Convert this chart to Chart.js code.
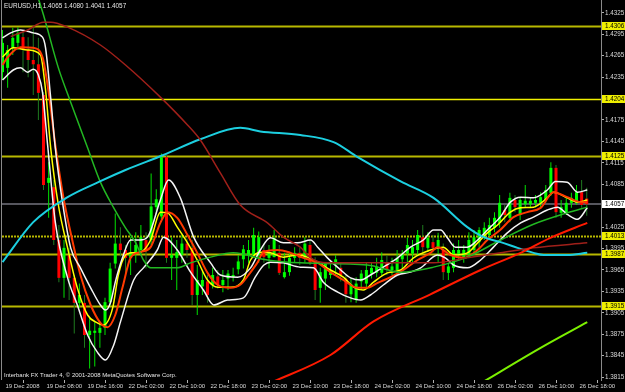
<!DOCTYPE html>
<html>
<head>
<meta charset="utf-8">
<script src="https://cdn.jsdelivr.net/npm/chart.js@4.4.1/dist/chart.umd.min.js"></script>
<style>
  html, body { margin: 0; padding: 0; background: #000; }
  #wrap { width: 625px; height: 392px; }
</style>
</head>
<body>
<div id="wrap"><canvas id="chart" width="625" height="392"></canvas></div>
<script>
// hourly candles, 19 Dec 2008 00:00 -> 26 Dec 2008 18:00
const opens = [1.4242,1.4248,1.4277,1.4283,1.4291,1.4273,1.4259,1.4253,1.4210,1.4087,1.4081,1.4007,1.3954,1.3986,1.3954,1.3919,1.3919,1.3874,1.3877,1.3877,
  1.3884,1.3920,1.3974,1.4002,1.3993,1.3982,1.3990,1.3993,1.4007,1.4007,1.4053,1.4040,1.4123,1.3982,1.3982,1.3986,1.4002,1.3996,1.3930,1.3942,
  1.3949,1.3944,1.3956,1.3944,1.3953,1.3955,1.3966,1.3980,1.3986,1.3986,1.3986,1.3993,1.3982,1.3983,1.3989,1.3955,1.3962,1.3982,1.3989,1.3982,
  1.4000,1.3979,1.3940,1.3953,1.3958,1.3974,1.3968,1.3953,1.3931,1.3923,1.3949,1.3946,1.3960,1.3961,1.3961,1.3975,1.3965,1.3965,1.3980,1.3988,
  1.3988,1.3993,1.4011,1.3996,1.4004,1.3997,1.3993,1.3961,1.3968,1.3986,1.3982,1.3986,1.3993,1.4004,1.4011,1.4014,1.4024,1.4031,1.4049,1.4038,
  1.4063,1.4042,1.4057,1.4057,1.4059,1.4059,1.4063,1.4073,1.4108,1.4045,1.4046,1.4059,1.4059,1.4074,1.4065];
const highs = [1.4301,1.4280,1.4304,1.4305,1.4301,1.4291,1.4304,1.4290,1.4214,1.4116,1.4091,1.4028,1.4007,1.3996,1.3958,1.3946,1.3930,1.3898,1.3892,1.3892,
  1.3926,1.3975,1.4044,1.4025,1.4000,1.4011,1.4018,1.4028,1.4018,1.4100,1.4078,1.4128,1.4126,1.4011,1.4007,1.4014,1.4009,1.4007,1.3972,1.3965,
  1.3958,1.3968,1.3965,1.3965,1.3965,1.3968,1.3986,1.4000,1.4007,1.4024,1.4019,1.4002,1.4000,1.4021,1.4000,1.3989,1.3990,1.3997,1.3996,1.4011,
  1.4007,1.3983,1.3968,1.3975,1.3975,1.3986,1.3975,1.3958,1.3953,1.3955,1.3965,1.3975,1.3975,1.3982,1.3990,1.3986,1.3982,1.3993,1.3993,1.4010,
  1.4007,1.4021,1.4028,1.4018,1.4014,1.4017,1.4002,1.3975,1.4002,1.4007,1.4000,1.4018,1.4021,1.4025,1.4032,1.4038,1.4046,1.4070,1.4056,1.4073,
  1.4070,1.4066,1.4084,1.4066,1.4070,1.4074,1.4084,1.4116,1.4112,1.4063,1.4067,1.4073,1.4084,1.4091,1.4080];
const lows = [1.4231,1.4220,1.4266,1.4273,1.4242,1.4235,1.4210,1.4175,1.4077,1.4038,1.4000,1.3948,1.3926,1.3923,1.3876,1.3912,1.3856,1.3827,1.3830,1.3856,
  1.3874,1.3915,1.3967,1.3984,1.3954,1.3958,1.3975,1.3986,1.3967,1.4000,1.4043,1.4036,1.3975,1.3951,1.3937,1.3975,1.3982,1.3916,1.3902,1.3930,
  1.3919,1.3939,1.3939,1.3934,1.3937,1.3949,1.3959,1.3967,1.3975,1.3982,1.3975,1.3975,1.3967,1.3983,1.3958,1.3953,1.3957,1.3975,1.3972,1.3975,
  1.3972,1.3923,1.3919,1.3937,1.3953,1.3958,1.3949,1.3919,1.3920,1.3919,1.3937,1.3939,1.3953,1.3955,1.3957,1.3958,1.3958,1.3960,1.3967,1.3975,
  1.3975,1.3986,1.3989,1.3990,1.3990,1.3975,1.3951,1.3951,1.3962,1.3979,1.3975,1.3982,1.3986,1.3996,1.4007,1.4007,1.4018,1.4024,1.4032,1.4032,
  1.4046,1.4035,1.4052,1.4052,1.4053,1.4053,1.4059,1.4069,1.4038,1.4038,1.4042,1.4052,1.4056,1.4052,1.4041];
const closes = [1.4283,1.4273,1.4290,1.4297,1.4273,1.4259,1.4253,1.4213,1.4084,1.4094,1.4007,1.3954,1.3996,1.3954,1.3919,1.3930,1.3874,1.3880,1.3880,1.3884,
  1.3920,1.3967,1.4002,1.3993,1.3982,1.3990,1.4000,1.4011,1.3993,1.4054,1.4064,1.4123,1.3982,1.3986,1.3990,1.4002,1.3993,1.3930,1.3951,1.3951,
  1.3930,1.3958,1.3944,1.3951,1.3960,1.3958,1.3977,1.3994,1.3993,1.4014,1.4011,1.3983,1.3989,1.4010,1.3961,1.3962,1.3982,1.3989,1.3982,1.4002,
  1.3975,1.3937,1.3962,1.3974,1.3965,1.3980,1.3958,1.3931,1.3945,1.3946,1.3960,1.3965,1.3968,1.3970,1.3979,1.3965,1.3970,1.3982,1.3988,1.4000,
  1.3997,1.4014,1.3997,1.4010,1.3996,1.4007,1.3962,1.3970,1.3993,1.3993,1.3993,1.4007,1.4011,1.4021,1.4024,1.4028,1.4038,1.4059,1.4042,1.4066,
  1.4053,1.4063,1.4062,1.4062,1.4063,1.4067,1.4077,1.4108,1.4046,1.4053,1.4059,1.4066,1.4074,1.4056,1.4057];

// time axis
const timeLabels = ['19 Dec 2008','19 Dec 08:00','19 Dec 16:00','22 Dec 02:00','22 Dec 10:00','22 Dec 18:00','23 Dec 02:00',
  '23 Dec 10:00','23 Dec 18:00','24 Dec 02:00','24 Dec 10:00','24 Dec 18:00','26 Dec 02:00','26 Dec 10:00','26 Dec 18:00'];
const timeTickBars = [0,8,16,24,32,40,48,56,64,72,80,88,96,104,112];

// price axis
const priceTicks = [1.4325,1.4295,1.4265,1.4235,1.4205,1.4175,1.4145,1.4115,1.4085,1.4055,1.4025,1.3995,1.3965,1.3935,1.3905,1.3875,1.3845,1.3815];
const levels = [1.4306,1.4204,1.4125,1.4013,1.3987,1.3915];
const lastPrice = 1.4057;

// indicator lines: [bar, price]
const upperBand = [[0,1.4290],[1.6,1.4297],[3.5,1.4301],[6,1.4297],[7.8,1.4291],[8.4,1.4276],[9.4,1.4206],[10.3,1.4136],[11.7,1.4060],[13.3,1.3996],
  [15.2,1.3968],[17.2,1.3940],[19.1,1.3916],[20.1,1.3909],[21.1,1.3920],[22,1.3948],[23.4,1.3982],[25,1.4007],[26.9,1.4007],[28.3,1.4011],
  [30.8,1.4063],[32.4,1.4091],[34.7,1.4066],[37.3,1.4011],[40.6,1.3975],[42.5,1.3958],[45.9,1.3955],[48.4,1.3968],[50.3,1.3993],[52.3,1.4010],
  [54.8,1.4003],[57.6,1.4003],[60.1,1.4007],[61.5,1.3997],[63.4,1.3982],[66,1.3965],[67.9,1.3954],[69.9,1.3951],[71.8,1.3958],[74.3,1.3969],
  [77.1,1.3982],[79.6,1.3997],[82.1,1.4007],[84.1,1.4021],[85.5,1.4021],[86.8,1.4010],[88.4,1.3997],[90.7,1.3997],[92.7,1.4007],[94.6,1.4021],
  [97.1,1.4039],[99.1,1.4060],[101.1,1.4067],[103.6,1.4066],[106.3,1.4077],[107.9,1.4089],[110.2,1.4088],[112.2,1.4074],[114.1,1.4077]];
const lowerBand = [[0,1.4231],[2.1,1.4245],[3.5,1.4248],[4.9,1.4242],[6,1.4246],[7,1.4238],[7.8,1.4214],[8.8,1.4140],[10.3,1.4032],[12.7,1.3954],
  [14.6,1.3916],[16.6,1.3874],[18.5,1.3850],[20.1,1.3839],[21.7,1.3860],[23,1.3892],[25.6,1.3951],[27.5,1.3968],[30.2,1.3993],[31.4,1.4011],
  [34.1,1.3993],[36.7,1.3962],[39.2,1.3937],[41.2,1.3916],[43.9,1.3923],[47,1.3926],[49.3,1.3955],[51,1.3972],[52.3,1.3976],[54.8,1.3975],
  [58.1,1.3969],[60.7,1.3968],[62.6,1.3948],[65.4,1.3934],[67.9,1.3926],[69.9,1.3923],[71.8,1.3930],[74.3,1.3944],[77.1,1.3958],[79.6,1.3962],
  [81.6,1.3968],[84.9,1.3986],[86.4,1.3982],[88,1.3972],[90.7,1.3968],[93.3,1.3979],[95.8,1.3997],[98.5,1.4017],[101.1,1.4031],[103.6,1.4039],
  [106.3,1.4049],[108.3,1.4053],[110.2,1.4043],[112.2,1.4036],[114.1,1.4052]];
const fastMA = [[0,1.4263],[2.1,1.4276],[4.9,1.4273],[7.4,1.4266],[8.4,1.4217],[9.4,1.4136],[10.9,1.4056],[12.7,1.3996],[14.6,1.3940],[16.6,1.3902],
  [18.5,1.3891],[19.7,1.3888],[21.5,1.3912],[22.6,1.3958],[24,1.3986],[25,1.3989],[26.9,1.3990],[28.9,1.4007],[30.8,1.4046],[32.2,1.4045],
  [34.1,1.4025],[36.1,1.4003],[38,1.3979],[40,1.3951],[42,1.3941],[44.5,1.3941],[47,1.3951],[48.4,1.3979],[50.3,1.3990],[52.3,1.3989],
  [54.8,1.3983],[57.6,1.3986],[59.5,1.3983],[61.5,1.3976],[64,1.3965],[66.5,1.3955],[68.5,1.3941],[70.4,1.3937],[72.4,1.3948],[75.1,1.3961],
  [77.7,1.3965],[80.2,1.3982],[83.5,1.3993],[86,1.3997],[88,1.3986],[90.7,1.3989],[92.7,1.4003],[94.6,1.4017],[96.6,1.4028],[99.1,1.4046],
  [101.1,1.4052],[103.6,1.4053],[106.3,1.4066],[107.5,1.4074],[110.2,1.4066],[112.2,1.4060],[114.1,1.4063]];
const slowMA = [[0,1.4252],[1,1.4263],[3.5,1.4277],[6,1.4276],[7.8,1.4263],[9,1.4214],[10.3,1.4140],[11.9,1.4066],[13.7,1.4004],[15.2,1.3958],
  [17.2,1.3916],[19.1,1.3891],[20.5,1.3885],[22,1.3902],[23.4,1.3940],[25,1.3982],[26.9,1.3990],[28.9,1.3997],[30.8,1.4031],[32.2,1.4046],
  [34.1,1.4038],[36.1,1.4014],[38,1.3989],[40,1.3961],[42,1.3944],[44.5,1.3940],[46.5,1.3945],[48,1.3958],[49.8,1.3976],[50.9,1.3990],
  [53.7,1.3993],[56.2,1.3989],[58.7,1.3982],[61.5,1.3975],[64,1.3962],[66.5,1.3951],[69.3,1.3940],[71.2,1.3940],[73.2,1.3947],[75.7,1.3955],
  [78.2,1.3965],[81,1.3979],[83.5,1.3989],[84.9,1.3997],[87.4,1.3986],[90,1.3982],[92.7,1.3993],[94.6,1.4007],[97.1,1.4021],[99.7,1.4039],
  [102.4,1.4046],[105,1.4052],[107.5,1.4074],[110.2,1.4067],[112.8,1.4060],[114.1,1.4060]];
const greenMA = [[6.6,1.4354],[8,1.4322],[10.9,1.4248],[13.3,1.4200],[16.6,1.4136],[19.1,1.4088],[21.7,1.4052],[24,1.4024],[26,1.4003],[27.5,1.3979],
  [28.9,1.3968],[34.1,1.3968],[36.7,1.3975],[40.6,1.3983],[45,1.3989],[51.7,1.3979],[58.1,1.3975],[71.2,1.3972],[77.7,1.3962],[84.1,1.3969],
  [90.7,1.3983],[97.2,1.4007],[103.6,1.4029],[110.2,1.4045],[114.1,1.4053]];
const cyanMA = [[0,1.3976],[6,1.4032],[12.7,1.4067],[19,1.4089],[24,1.4105],[31.4,1.4126],[38.6,1.4148],[46.4,1.4164],[50.3,1.4159],[58.1,1.4154],
  [64.6,1.4144],[69.3,1.4123],[77.7,1.4089],[84.1,1.4066],[90.7,1.4025],[93.9,1.4011],[97.2,1.4004],[100.5,1.3996],[103.6,1.3989],[105.6,1.3986],
  [110.2,1.3986],[114.1,1.3989]];
const brownMA = [[1.6,1.4292],[4.9,1.4301],[8,1.4312],[9.4,1.4312],[12.7,1.4305],[19.1,1.4280],[24,1.4252],[30.8,1.4207],[36.1,1.4168],[38.6,1.4147],
  [42.5,1.4101],[46.4,1.4056],[51.7,1.4031],[54.8,1.4011],[58.1,1.3997],[60.1,1.3982],[63.4,1.3975],[77.7,1.3975],[84.1,1.3975],[90.7,1.3982],
  [97.2,1.3989],[103.6,1.3996],[114.1,1.4003]];
const redMA = [[52,1.3806],[64,1.3846],[72.4,1.3893],[83.5,1.3931],[93.3,1.3965],[101.1,1.3989],[106.9,1.4010],[114.1,1.4031]];
const limeMA = [[93,1.3805],[105,1.3856],[114.1,1.3892]];

const FONT = '"Liberation Sans", Arial, sans-serif';
Chart.defaults.font.family = FONT;

const isUp = i => closes[i] >= opens[i];
const wickData = opens.map((o, i) => ({ x: i, y: [lows[i], highs[i]] }));
const bodyData = opens.map((o, i) => ({ x: i, y: [o, closes[i]] }));

function lineSet(pts, color, width) {
    return {
        type: 'line',
        data: pts.map(p => ({ x: p[0], y: p[1] })),
        borderColor: color,
        borderWidth: width,
        pointRadius: 0,
        cubicInterpolationMode: 'monotone',
        fill: false,
        order: 1
    };
}

// extra MT4 furniture: bid line, levels, price boxes, captions
const furniture = {
    id: 'furniture',
    beforeDatasetsDraw(chart) {
        const { ctx, chartArea: a, scales: { y } } = chart;
        ctx.save();
        // left frame
        ctx.strokeStyle = '#8a8a8a';
        ctx.lineWidth = 1;
        ctx.beginPath(); ctx.moveTo(1.5, 0); ctx.lineTo(1.5, a.bottom); ctx.stroke();
        // bid line
        const py = Math.round(y.getPixelForValue(lastPrice));
        ctx.strokeStyle = '#56565e';
        ctx.lineWidth = 2;
        ctx.beginPath(); ctx.moveTo(a.left, py); ctx.lineTo(a.right, py); ctx.stroke();
        // horizontal levels
        levels.forEach(v => {
            const ly = Math.round(y.getPixelForValue(v)) + 0.5;
            ctx.strokeStyle = v === 1.4204 ? '#f0f000' : '#b8b800';
            ctx.lineWidth = v === 1.4204 ? 1.5 : 2;
            ctx.setLineDash(v === 1.4013 ? [2, 1] : []);
            ctx.beginPath(); ctx.moveTo(a.left, ly); ctx.lineTo(a.right, ly); ctx.stroke();
        });
        ctx.restore();
    },
    afterDraw(chart) {
        const { ctx, chartArea: a, scales: { y } } = chart;
        ctx.save();
        ctx.font = '6.3px ' + FONT;
        ctx.textBaseline = 'middle';
        const box = (v, bg) => {
            const by = Math.round(y.getPixelForValue(v));
            ctx.fillStyle = bg;
            ctx.fillRect(a.right + 1, by - 4, 625 - a.right - 1, 8);
            ctx.fillStyle = '#000';
            ctx.fillText(v.toFixed(4), a.right + 4, by + 0.5);
        };
        levels.forEach(v => box(v, '#eeee00'));
        box(lastPrice, '#ffffff');

        const last = opens.length - 1;
        ctx.fillStyle = '#e6e6e6';
        ctx.font = '6.4px ' + FONT;
        ctx.fillText('EURUSD,H1 ' + [opens[last], highs[last], lows[last], closes[last]].map(v => v.toFixed(4)).join(' '), 4, 6);
        ctx.font = '6px ' + FONT;
        ctx.fillText('Interbank FX Trader 4, \u00a9 2001-2008 MetaQuotes Software Corp.', 4, 375);
        ctx.restore();
    }
};

new Chart(document.getElementById('chart'), {
    type: 'bar',
    data: {
        datasets: [
            lineSet(limeMA, '#7cf000', 2),
            lineSet(redMA, '#ff1a00', 2),
            lineSet(brownMA, '#a0201a', 1.5),
            lineSet(cyanMA, '#1ccfe0', 2),
            lineSet(greenMA, '#22b822', 1.5),
            lineSet(upperBand, '#f4f4f4', 1.5),
            lineSet(lowerBand, '#f4f4f4', 1.5),
            lineSet(slowMA, '#ff3a00', 2),
            lineSet(fastMA, '#ffff00', 1.5),
            {
                type: 'bar',
                data: wickData,
                backgroundColor: ctx => isUp(ctx.dataIndex) ? '#00e000' : '#1f7a1f',
                maxBarThickness: 1,
                grouped: false,
                order: 20
            },
            {
                type: 'bar',
                data: bodyData,
                backgroundColor: ctx => isUp(ctx.dataIndex) ? '#00ff00' : '#ff0000',
                maxBarThickness: 3,
                minBarLength: 1,
                grouped: false,
                order: 19
            }
        ]
    },
    options: {
        responsive: false,
        animation: false,
        events: [],
        devicePixelRatio: 1,
        layout: { autoPadding: false, padding: { left: 2, right: 0, top: 0, bottom: 0 } },
        plugins: { legend: { display: false }, tooltip: { enabled: false } },
        scales: {
            x: {
                type: 'linear',
                bounds: 'data',
                offset: false,
                min: -0.1,
                max: 116.78,
                afterBuildTicks: s => { s.ticks = timeTickBars.map(v => ({ value: v })); },
                afterFit: s => { s.height = 12; s.paddingLeft = 0; s.paddingRight = 0; },
                grid: { drawOnChartArea: false, drawTicks: true, tickLength: 3, color: '#b0b0b0' },
                border: { display: false },
                ticks: {
                    autoSkip: false,
                    maxRotation: 0,
                    align: 'start',
                    labelOffset: 3,
                    padding: 0,
                    color: '#d8d8d8',
                    font: { size: 6 },
                    callback: (v, i) => timeLabels[i]
                }
            },
            y: {
                type: 'linear',
                position: 'right',
                bounds: 'data',
                min: 1.3811,
                max: 1.4343,
                afterBuildTicks: s => { s.ticks = priceTicks.map(v => ({ value: v })); },
                afterFit: s => { s.width = 24; s.paddingTop = 0; s.paddingBottom = 0; },
                grid: { drawOnChartArea: false, drawTicks: true, tickLength: 3, color: '#b0b0b0' },
                border: { display: true, color: '#8a8a8a', width: 1 },
                ticks: {
                    padding: 1,
                    color: '#d8d8d8',
                    font: { size: 6.3 },
                    callback: v => v.toFixed(4)
                }
            }
        }
    },
    plugins: [furniture]
});
</script>
</body>
</html>
